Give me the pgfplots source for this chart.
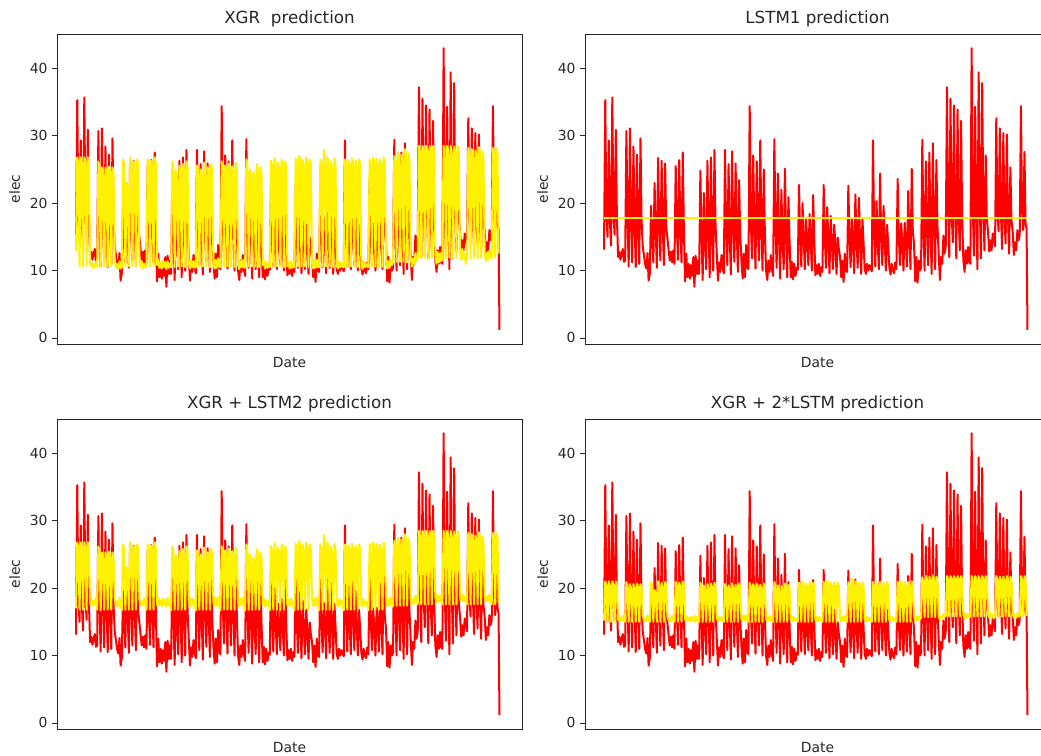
\documentclass[border=0pt]{standalone}
\usepackage{fontspec}
\setmainfont{DejaVu Sans}
\usepackage{pgfplots}
\usepackage{pgfplotstable}
\pgfplotsset{compat=1.18}

% x = day index; r = actual elec; a = XGR; c = XGR+LSTM2; e = XGR+2*LSTM
\pgfplotstableread{
x r a c e
0.00 13.1 12.8 17.0 15.2
0.35 35.3 26.8 26.8 21.0
0.65 18.5 26.0 26.0 20.4
1.00 15.0 10.6 16.8 15.0
1.35 29.3 26.8 26.8 21.0
1.65 17.5 26.0 26.0 20.4
2.00 13.7 10.6 16.8 15.0
2.35 35.7 26.8 26.8 21.0
2.65 19.0 26.2 26.2 20.5
3.00 15.3 10.7 16.8 15.0
3.35 30.9 26.8 26.8 21.0
3.65 18.0 25.9 25.9 20.3
4.00 12.0 10.8 17.6 15.3
4.35 12.8 11.2 18.5 15.9
4.65 11.6 10.4 17.4 15.2
5.00 12.5 11.0 18.2 15.6
5.35 13.2 10.5 17.5 15.2
5.65 11.3 11.3 18.6 16.0
6.00 11.5 10.6 16.8 15.0
6.35 30.7 26.2 26.2 20.9
6.65 18.0 25.4 25.4 20.3
7.00 10.6 10.5 16.7 15.0
7.35 31.1 25.3 25.3 20.6
7.65 17.2 24.6 24.6 20.1
8.00 11.2 10.6 16.8 15.0
8.35 28.4 25.3 25.3 20.6
8.65 17.8 24.5 24.5 20.1
9.00 10.5 10.6 16.8 15.0
9.35 27.2 25.4 25.4 20.7
9.65 16.9 24.7 24.7 20.2
10.00 11.0 10.7 16.8 15.0
10.35 29.6 25.3 25.3 20.6
10.65 17.5 24.5 24.5 20.1
11.00 13.5 11.5 18.4 15.8
11.35 12.2 10.4 17.4 15.2
11.65 11.0 11.0 18.0 15.5
12.00 10.3 10.2 17.3 15.1
12.35 12.6 11.4 18.6 16.0
12.65 8.5 10.3 17.5 15.2
13.00 9.6 10.5 16.7 15.0
13.35 19.6 26.5 26.5 20.9
13.65 15.5 25.7 25.7 20.4
14.00 11.2 10.6 16.8 15.0
14.35 23.0 23.1 23.1 19.7
14.65 16.4 22.4 22.4 19.3
15.00 10.4 10.6 16.8 15.0
15.35 26.7 26.8 26.8 21.0
15.65 17.0 26.0 26.0 20.5
16.00 11.5 10.7 16.8 15.0
16.35 26.3 26.2 26.2 20.8
16.65 16.8 25.5 25.5 20.3
17.00 10.8 10.6 16.8 15.0
17.35 25.9 26.5 26.5 20.9
17.65 16.5 25.8 25.8 20.4
18.00 14.8 11.8 18.3 15.8
18.35 13.0 10.6 17.5 15.2
18.65 11.5 11.4 18.1 15.6
19.00 12.8 10.3 17.4 15.1
19.35 11.2 11.0 18.5 15.9
19.65 13.0 10.5 17.6 15.3
20.00 11.0 10.6 16.8 15.0
20.35 25.5 26.5 26.5 20.9
20.65 16.8 25.8 25.8 20.4
21.00 11.6 10.6 16.8 15.0
21.35 26.4 26.3 26.3 20.8
21.65 17.0 25.6 25.6 20.3
22.00 11.2 10.7 16.8 15.0
22.35 27.5 26.8 26.8 21.0
22.65 16.6 26.0 26.0 20.5
23.00 8.4 10.8 17.6 15.3
23.35 12.5 11.6 18.6 15.9
23.65 9.0 10.4 17.4 15.2
24.00 11.0 11.2 18.2 15.6
24.35 8.8 10.3 17.3 15.1
24.65 10.8 11.5 18.5 15.8
25.00 9.2 10.5 17.5 15.2
25.35 12.0 11.3 18.3 15.7
25.65 7.6 10.2 17.3 15.0
26.00 12.2 11.4 18.6 15.9
26.35 9.5 10.4 17.4 15.2
26.65 11.5 11.0 18.0 15.5
27.00 9.5 10.5 16.7 15.0
27.35 24.8 26.2 26.2 20.8
27.65 15.8 25.5 25.5 20.3
28.00 8.6 10.5 16.8 15.0
28.35 21.5 24.8 24.8 20.4
28.65 15.0 24.1 24.1 19.9
29.00 10.2 10.6 16.8 15.0
29.35 26.3 25.5 25.5 20.6
29.65 16.5 24.8 24.8 20.1
30.00 9.0 10.6 16.8 15.0
30.35 26.8 25.8 25.8 20.7
30.65 16.2 25.1 25.1 20.2
31.00 10.0 10.5 16.8 15.0
31.35 27.9 26.2 26.2 20.8
31.65 16.8 25.4 25.4 20.3
32.00 12.5 11.2 18.2 15.6
32.35 8.5 10.3 17.3 15.1
32.65 11.2 11.5 18.5 15.8
33.00 9.8 10.5 17.5 15.2
33.35 12.3 11.4 18.4 15.7
33.65 10.5 10.4 17.4 15.2
34.00 9.6 10.5 16.7 15.0
34.35 27.9 25.6 25.6 20.6
34.65 16.5 24.9 24.9 20.1
35.00 10.8 10.6 16.8 15.0
35.35 25.8 25.0 25.0 20.4
35.65 16.0 24.3 24.3 19.9
36.00 9.4 10.6 16.8 15.0
36.35 27.7 26.0 26.0 20.7
36.65 16.8 25.2 25.2 20.2
37.00 11.3 10.6 16.8 15.0
37.35 25.9 25.3 25.3 20.5
37.65 16.2 24.6 24.6 20.0
38.00 9.8 10.5 16.8 15.0
38.35 23.4 25.8 25.8 20.7
38.65 15.6 25.0 25.0 20.2
39.00 11.5 11.0 18.0 15.5
39.35 8.8 10.3 17.3 15.1
39.65 12.5 11.6 18.6 15.9
40.00 9.0 10.4 17.4 15.2
40.35 13.8 11.8 18.7 16.0
40.65 10.5 10.6 17.6 15.3
41.00 10.2 10.5 16.7 15.0
41.35 34.4 26.2 26.2 20.8
41.65 17.5 25.5 25.5 20.3
42.00 11.8 10.6 16.8 15.0
42.35 27.1 25.6 25.6 20.6
42.65 16.6 24.9 24.9 20.1
43.00 10.3 10.6 16.8 15.0
43.35 26.2 25.9 25.9 20.7
43.65 16.4 25.2 25.2 20.2
44.00 11.5 10.6 16.8 15.0
44.35 29.3 25.5 25.5 20.5
44.65 17.0 24.8 24.8 20.0
45.00 10.0 10.5 16.8 15.0
45.35 25.0 26.0 26.0 20.7
45.65 15.8 25.3 25.3 20.2
46.00 10.0 10.9 17.8 15.4
46.35 8.6 10.2 17.3 15.1
46.65 11.5 11.4 18.4 15.8
47.00 9.8 10.5 17.5 15.2
47.35 12.3 11.6 18.6 15.9
47.65 10.2 10.4 17.4 15.2
48.00 9.2 10.5 16.7 15.0
48.35 29.5 26.5 26.5 20.9
48.65 16.8 25.8 25.8 20.4
49.00 10.4 10.6 16.8 15.0
49.35 24.4 25.0 25.0 20.4
49.65 15.6 24.3 24.3 19.9
50.00 8.8 10.6 16.8 15.0
50.35 22.0 24.6 24.6 20.3
50.65 15.0 23.9 23.9 19.8
51.00 10.2 10.6 16.8 15.0
51.35 25.1 25.8 25.8 20.7
51.65 15.8 25.1 25.1 20.2
52.00 9.0 10.5 16.8 15.0
52.35 20.9 25.3 25.3 20.5
52.65 14.8 24.6 24.6 20.0
53.00 9.0 10.8 17.6 15.3
53.35 11.3 11.5 18.5 15.8
53.65 8.7 10.3 17.3 15.1
54.00 11.0 11.2 18.2 15.6
54.35 9.2 10.4 17.4 15.2
54.65 10.4 11.0 18.0 15.5
55.00 10.1 10.5 16.7 15.0
55.35 22.7 26.3 26.3 20.8
55.65 15.5 25.6 25.6 20.3
56.00 10.6 10.6 16.8 15.0
56.35 20.0 26.7 26.7 21.0
56.65 15.2 26.0 26.0 20.5
57.00 10.2 10.6 16.8 15.0
57.35 17.7 26.0 26.0 20.7
57.65 14.6 25.3 25.3 20.2
58.00 10.8 10.6 16.8 15.0
58.35 18.4 26.5 26.5 20.9
58.65 14.8 25.8 25.8 20.4
59.00 10.0 10.5 16.8 15.0
59.35 21.2 26.2 26.2 20.8
59.65 15.0 25.5 25.5 20.3
60.00 9.3 10.6 17.5 15.2
60.35 10.8 11.3 18.3 15.7
60.65 9.5 10.3 17.3 15.1
61.00 11.0 11.4 18.5 15.8
61.35 9.2 10.4 17.4 15.2
61.65 10.5 11.0 18.0 15.5
62.00 9.8 10.5 16.7 15.0
62.35 22.7 26.6 26.6 20.9
62.65 15.4 25.9 25.9 20.4
63.00 10.4 10.6 16.8 15.0
63.35 19.4 27.0 27.0 21.1
63.65 15.0 26.3 26.3 20.6
64.00 9.6 10.6 16.8 15.0
64.35 18.1 26.4 26.4 20.8
64.65 14.5 25.7 25.7 20.3
65.00 10.2 10.6 16.8 15.0
65.35 16.8 26.8 26.8 20.9
65.65 14.0 26.1 26.1 20.4
66.00 9.5 10.5 16.8 15.0
66.35 14.9 26.5 26.5 20.8
66.65 13.2 25.8 25.8 20.3
67.00 12.0 11.2 18.2 15.6
67.35 9.0 10.3 17.3 15.1
67.65 11.5 11.5 18.5 15.8
68.00 8.3 10.4 17.4 15.2
68.35 12.5 11.6 18.6 15.9
68.65 10.0 10.5 17.5 15.2
69.00 9.8 10.5 16.7 15.0
69.35 22.6 26.5 26.5 20.9
69.65 15.2 25.8 25.8 20.4
70.00 10.5 10.6 16.8 15.0
70.35 17.8 27.9 27.9 21.4
70.65 14.6 27.1 27.1 20.9
71.00 9.6 10.6 16.8 15.0
71.35 21.3 26.8 26.8 21.0
71.65 15.2 26.1 26.1 20.5
72.00 10.4 10.6 16.8 15.0
72.35 20.8 26.2 26.2 20.8
72.65 15.0 25.5 25.5 20.3
73.00 9.5 10.5 16.8 15.0
73.35 17.7 26.6 26.6 20.9
73.65 14.4 25.9 25.9 20.4
74.00 10.2 10.8 17.6 15.3
74.35 9.5 10.3 17.3 15.1
74.65 11.0 11.4 18.4 15.8
75.00 10.0 10.5 17.5 15.2
75.35 10.8 11.2 18.2 15.6
75.65 10.4 10.6 17.6 15.3
76.00 9.9 10.5 16.7 15.0
76.35 29.3 26.5 26.5 20.9
76.65 16.8 25.8 25.8 20.4
77.00 10.6 10.6 16.8 15.0
77.35 20.3 26.4 26.4 20.8
77.65 15.0 25.7 25.7 20.3
78.00 10.2 10.6 16.8 15.0
78.35 24.4 26.6 26.6 20.9
78.65 15.8 25.9 25.9 20.4
79.00 10.8 10.6 16.8 15.0
79.35 19.6 26.3 26.3 20.8
79.65 14.8 25.6 25.6 20.3
80.00 10.0 10.5 16.8 15.0
80.35 16.8 26.5 26.5 20.9
80.65 14.0 25.8 25.8 20.4
81.00 10.4 10.7 17.6 15.3
81.35 9.4 10.2 17.3 15.1
81.65 11.0 11.4 18.4 15.8
82.00 10.0 10.5 17.5 15.2
82.35 9.6 11.0 18.0 15.5
82.65 11.2 10.6 17.6 15.3
83.00 10.2 10.5 16.7 15.0
83.35 23.6 26.5 26.5 20.9
83.65 15.5 25.8 25.8 20.4
84.00 10.8 10.6 16.8 15.0
84.35 17.0 26.8 26.8 21.0
84.65 14.4 26.1 26.1 20.5
85.00 10.0 10.6 16.8 15.0
85.35 17.1 26.6 26.6 20.9
85.65 14.6 25.9 25.9 20.4
86.00 10.6 10.6 16.8 15.0
86.35 21.8 26.5 26.5 20.9
86.65 15.2 25.8 25.8 20.4
87.00 10.2 10.5 16.8 15.0
87.35 25.1 26.8 26.8 21.0
87.65 15.8 26.1 26.1 20.5
88.00 14.0 11.8 18.6 15.9
88.35 8.4 10.3 17.3 15.1
88.65 12.0 11.4 18.4 15.8
89.00 8.2 10.4 17.4 15.2
89.35 11.5 11.6 18.6 15.9
89.65 10.0 10.8 17.8 15.4
90.00 10.4 11.2 17.3 15.6
90.35 29.4 27.0 27.0 21.6
90.65 16.8 26.3 26.3 21.1
91.00 10.0 11.3 17.4 15.7
91.35 26.2 27.5 27.5 21.8
91.65 16.5 26.8 26.8 21.3
92.00 10.8 11.3 17.4 15.7
92.35 27.5 27.2 27.2 21.7
92.65 16.8 26.5 26.5 21.2
93.00 9.5 11.3 17.4 15.7
93.35 28.9 28.0 28.0 21.9
93.65 17.2 27.3 27.3 21.4
94.00 10.2 11.2 17.4 15.7
94.35 26.4 27.4 27.4 21.7
94.65 16.6 26.7 26.7 21.2
95.00 12.5 12.0 18.5 15.9
95.35 8.6 10.6 17.5 15.3
95.65 12.0 11.8 18.4 15.8
96.00 11.0 11.0 17.9 15.6
96.35 15.2 12.6 18.9 16.2
96.65 12.5 11.4 18.2 15.8
97.00 13.5 11.8 17.6 15.8
97.35 37.2 28.5 28.5 21.8
97.65 19.5 27.8 27.8 21.4
98.00 12.0 11.8 17.6 15.8
98.35 35.5 28.5 28.5 21.8
98.65 19.0 27.8 27.8 21.4
99.00 14.2 11.9 17.6 15.8
99.35 34.5 28.5 28.5 21.8
99.65 18.8 27.8 27.8 21.4
100.00 11.8 11.8 17.6 15.8
100.35 33.9 28.5 28.5 21.8
100.65 18.5 27.8 27.8 21.4
101.00 13.0 11.9 17.6 15.8
101.35 32.2 28.5 28.5 21.8
101.65 18.2 27.7 27.7 21.3
102.00 11.5 12.4 18.8 16.1
102.35 9.8 11.0 17.8 15.5
102.65 13.0 12.8 19.0 16.3
103.00 11.0 11.2 18.0 15.6
103.35 13.5 12.6 18.9 16.2
103.65 11.2 11.4 18.2 15.7
104.00 11.0 11.8 17.6 15.8
104.35 43.0 28.5 28.5 21.8
104.65 20.0 27.8 27.8 21.4
105.00 12.2 11.8 17.6 15.8
105.35 34.3 28.5 28.5 21.8
105.65 19.2 27.8 27.8 21.4
106.00 10.2 11.9 17.6 15.8
106.35 39.4 28.5 28.5 21.8
106.65 19.8 27.8 27.8 21.4
107.00 11.8 11.8 17.6 15.8
107.35 37.8 28.4 28.4 21.8
107.65 19.5 27.7 27.7 21.4
108.00 13.0 11.9 17.6 15.8
108.35 27.1 28.5 28.5 21.8
108.65 17.8 27.8 27.8 21.4
109.00 15.8 12.8 18.9 16.2
109.35 12.8 11.6 18.0 15.6
109.65 14.5 13.2 19.1 16.3
110.00 13.0 11.8 18.1 15.7
110.35 15.5 12.5 18.8 16.1
110.65 14.8 11.0 17.9 15.5
111.00 13.6 11.8 17.6 15.8
111.35 32.6 28.2 28.2 21.8
111.65 19.0 27.5 27.5 21.3
112.00 15.8 11.8 17.6 15.8
112.35 31.1 28.0 28.0 21.7
112.65 18.8 27.3 27.3 21.3
113.00 13.2 11.9 17.6 15.8
113.35 30.4 27.8 27.8 21.7
113.65 18.5 27.1 27.1 21.2
114.00 14.0 11.8 17.6 15.8
114.35 30.2 28.3 28.3 21.8
114.65 18.4 27.6 27.6 21.3
115.00 12.5 11.9 17.6 15.8
115.35 25.3 27.7 27.7 21.7
115.65 17.5 27.0 27.0 21.2
116.00 15.8 12.8 18.9 16.2
116.35 12.3 11.4 18.0 15.6
116.65 14.2 12.6 18.8 16.1
117.00 13.0 11.6 18.1 15.6
117.35 16.0 13.0 19.0 16.3
117.65 14.5 12.0 18.3 15.8
118.00 15.2 11.8 17.6 15.8
118.35 34.4 28.2 28.2 21.8
118.65 19.0 27.5 27.5 21.3
119.00 16.0 11.9 17.6 15.8
119.35 27.6 28.2 28.2 21.8
119.65 17.0 27.4 27.4 21.3
119.95 16.2 12.5 17.8 15.9
120.20 1.2 nan nan nan
}\datatab

\pgfplotsset{
  panel/.style={
    scale only axis, width=465pt, height=310pt, anchor=south west,
    xmin=-5.4, xmax=126.6, ymin=-0.9, ymax=45.1,
    xtick=\empty, ytick={0,10,20,30,40}, ytick pos=left,
    tick align=outside, major tick length=4.9pt,
    ytick style={black!85, line width=0.8pt},
    axis line style={black!85, line width=0.8pt},
    tick label style={font=\fontsize{13.9}{16}\selectfont, black!85},
    yticklabel style={xshift=-1pt},
    /pgf/number format/assume math mode=true,
    title style={font=\fontsize{16.7}{19}\selectfont, yshift=-3pt, black!85},
    label style={font=\fontsize{13.9}{16}\selectfont, black!85},
    xlabel={Date}, ylabel={elec},
    xlabel style={yshift=-5pt},
    ylabel style={yshift=3pt},
    every axis plot/.append style={line width=2pt, line join=round},
  }
}

\begin{document}
\begin{tikzpicture}
\begin{axis}[panel, at={(57pt,411pt)}, title={XGR\ \ prediction}]
  \addplot[red] table[x=x, y=r] {\datatab};
  \addplot[yellow] table[x=x, y=a] {\datatab};
\end{axis}
\begin{axis}[panel, at={(585pt,411pt)}, title={LSTM1 prediction}]
  \addplot[red] table[x=x, y=r] {\datatab};
  \addplot[yellow] coordinates {(0,17.8) (119.95,17.8)};
\end{axis}
\begin{axis}[panel, at={(57pt,26pt)}, title={XGR + LSTM2 prediction}]
  \addplot[red] table[x=x, y=r] {\datatab};
  \addplot[yellow] table[x=x, y=c] {\datatab};
\end{axis}
\begin{axis}[panel, at={(585pt,26pt)}, title={XGR + 2*LSTM prediction}]
  \addplot[red] table[x=x, y=r] {\datatab};
  \addplot[yellow] table[x=x, y=e] {\datatab};
\end{axis}
\pgfresetboundingbox
\useasboundingbox (0,0) rectangle (1041pt,755pt);
\end{tikzpicture}
\end{document}
